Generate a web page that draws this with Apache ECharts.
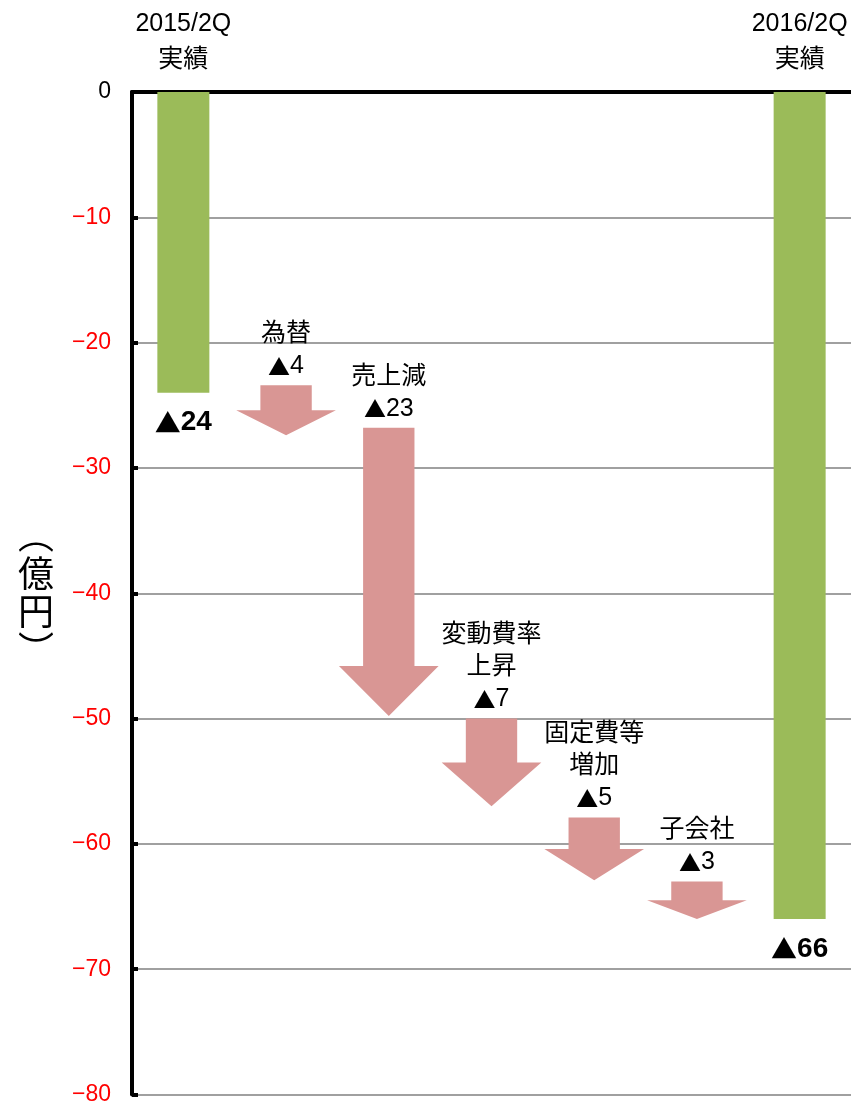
<!DOCTYPE html>
<html>
<head>
<meta charset="utf-8">
<script src="https://cdn.jsdelivr.net/npm/echarts@6/dist/echarts.min.js"></script>
<style>
  html, body { margin: 0; padding: 0; background: #fff; }
  #chart { width: 851px; height: 1106px; }
</style>
</head>
<body>
<div id="chart"></div>
<script>
// Operating profit bridge, 2015/2Q -> 2016/2Q (億円)
const categories = ['2015/2Q\n実績', '為替', '売上減', '変動費率\n上昇', '固定費等\n増加', '子会社', '2016/2Q\n実績'];
const totalValues = [-24, '-', '-', '-', '-', '-', -66];
const stepNames = ['為替', '売上減', '変動費率\n上昇', '固定費等\n増加', '子会社'];
const stepStarts = [-23.4, -26.8, -50, -57.9, -63];
const stepValues = [4, 23, 7, 5, 3];
const yMin = -80, yMax = 0, yStep = 10;

const FONT = "'Liberation Sans', 'Noto Sans CJK JP', sans-serif";
const CJK = "'Noto Sans CJK JP', sans-serif";
const GREEN = '#9bbb59';
const ARROW = '#d99694';

const stepData = stepNames.map((n, i) => [i + 1, stepStarts[i], stepValues[i]]);

// Down arrow from the step's start value to start - drop, with its caption above
function renderArrow(params, api) {
  const idx = params.dataIndex;
  const x = api.value(0), start = api.value(1), drop = api.value(2);
  const top = api.coord([x, start]);
  const tip = api.coord([x, start - drop]);
  const band = api.size([1, 0])[0];
  const shaft = band * 0.25;
  const head = band * 0.485;
  const len = tip[1] - top[1];
  const headLen = Math.min(len / 2, 50);
  const neck = tip[1] - headLen;
  const cx = top[0];
  const points = [
    [cx - shaft, top[1]], [cx + shaft, top[1]], [cx + shaft, neck],
    [cx + head, neck], [cx, tip[1]], [cx - head, neck], [cx - shaft, neck]
  ];
  return {
    type: 'group',
    children: [
      { type: 'polygon', shape: { points }, style: { fill: ARROW } },
      {
        type: 'text', x: cx, y: top[1] - 3,
        style: {
          text: stepNames[idx] + '\n{t|▲}' + drop,
          fill: '#000', font: '25px ' + FONT, lineHeight: 32,
          align: 'center', verticalAlign: 'bottom',
          rich: { t: { fontFamily: CJK, fontSize: 22, lineHeight: 32, fill: '#000' } }
        }
      }
    ]
  };
}

const chart = echarts.init(document.getElementById('chart'), null, { renderer: 'canvas' });
chart.setOption({
  backgroundColor: '#fff',
  animation: false,
  grid: { left: 132, right: -2, top: 92, bottom: 10, containLabel: false },
  xAxis: {
    type: 'category', position: 'top', data: categories,
    axisLine: { lineStyle: { color: '#000', width: 4 } },
    axisTick: { show: false },
    axisLabel: {
      interval: 0, margin: 14, color: '#000', fontSize: 25, lineHeight: 36, fontFamily: FONT,
      formatter: (v, i) => (i === 0 || i === categories.length - 1) ? v : ''
    },
    splitLine: { show: false }
  },
  yAxis: {
    type: 'value', min: yMin, max: yMax, interval: yStep,
    axisLine: { show: true, onZero: false, lineStyle: { color: '#000', width: 4 } },
    axisTick: { show: true, inside: true, length: 6, lineStyle: { color: '#000', width: 4 } },
    axisLabel: {
      margin: 21, fontSize: 23, fontFamily: FONT,
      color: v => (Number(v) === 0 ? '#000' : '#ff0000'),
      formatter: v => (v === 0 ? '0' : '\u2212' + Math.abs(v))
    },
    splitLine: { show: true, lineStyle: { color: '#a0a0a0', width: 2 } }
  },
  graphic: [{
    type: 'text', left: 18, top: 516,
    style: {
      text: '︵\n億\n円\n︶', fill: '#000', font: '36px ' + CJK,
      lineHeight: 38, align: 'center'
    }
  }],
  series: [
    {
      type: 'bar', data: totalValues, barWidth: 52, z: 2,
      itemStyle: { color: GREEN },
      label: {
        show: true, position: 'outside', distance: 16, color: '#000',
        fontSize: 28, fontWeight: 'bold', fontFamily: FONT,
        formatter: p => '{t|▲}' + Math.abs(p.value),
        rich: { t: { fontFamily: CJK, fontSize: 26, fontWeight: 'bold', color: '#000' } }
      }
    },
    {
      type: 'custom', data: stepData, renderItem: renderArrow, z: 3,
      encode: { x: 0, y: 1 }
    }
  ]
});
</script>
</body>
</html>
